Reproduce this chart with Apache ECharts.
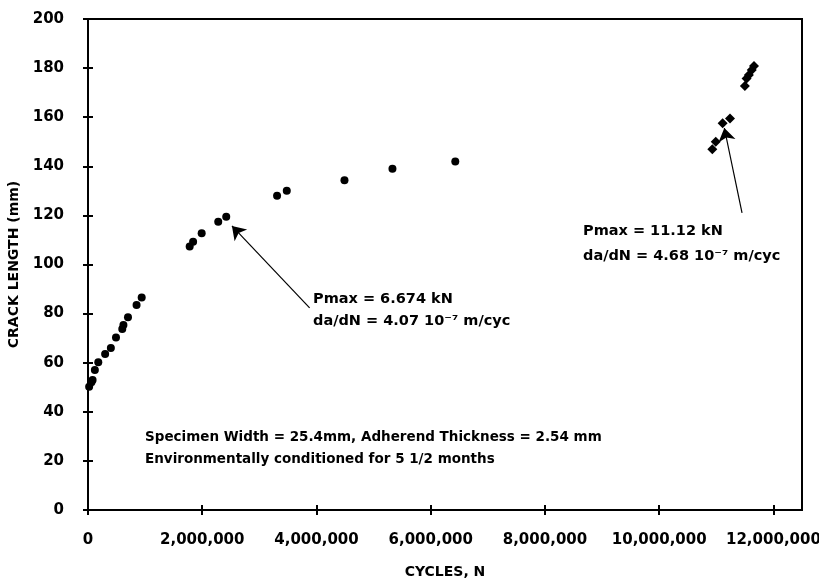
<!DOCTYPE html>
<html>
<head>
<meta charset="utf-8">
<script src="https://cdn.jsdelivr.net/npm/echarts@6/dist/echarts.min.js"></script>
<style>
html,body{margin:0;padding:0;background:#fff;}
#chart{width:819px;height:581px;}
</style>
</head>
<body>
<div id="chart"></div>
<script>
// ---- data ----
var cyclesEarly = [20000, 60000, 80000, 120000, 180000, 300000, 400000, 490000, 600000, 620000, 700000, 850000, 940000];
var lengthEarly = [50.2, 52, 53, 57, 60.2, 63.5, 66, 70.3, 73.7, 75.4, 78.5, 83.5, 86.6];
var cyclesMid = [1780000, 1840000, 1990000, 2280000, 2420000, 3310000, 3480000, 4490000, 5330000, 6430000];
var lengthMid = [107.3, 109.3, 112.7, 117.4, 119.5, 128, 130, 134.3, 139, 142];
var cyclesLate = [10930000, 10990000, 11110000, 11240000, 11500000, 11530000, 11570000, 11620000, 11660000];
var lengthLate = [146.9, 150, 157.5, 159.5, 172.7, 175.8, 177.2, 179.2, 180.9];
var xTicks = [0, 2000000, 4000000, 6000000, 8000000, 10000000, 12000000];
var yTicks = [0, 20, 40, 60, 80, 100, 120, 140, 160, 180, 200];

function pairs(xs, ys) { return xs.map(function (x, i) { return [x, ys[i]]; }); }
function fmt(v) { return String(v).replace(/\B(?=(\d{3})+(?!\d))/g, ','); }

var FONT = 'DejaVu Sans';
var labelStyle = { color: '#000', fontFamily: FONT, fontWeight: 'bold', fontSize: 14 };
var gridBox = { left: 88, top: 19, right: 17, bottom: 71, containLabel: false, outerBoundsMode: 'none' };
var dotStyle = { color: '#000', opacity: 1 };

var chart = echarts.init(document.getElementById('chart'), null, { renderer: 'canvas' });

var xMain = {
  type: 'value', min: 0, max: 12500000, position: 'bottom',
  name: 'CYCLES, N', nameLocation: 'middle', nameGap: 55, nameTextStyle: labelStyle,
  axisLine: { show: true, onZero: false, lineStyle: { color: '#000', width: 2 } },
  axisTick: { show: true, length: 5, customValues: xTicks, lineStyle: { color: '#000', width: 2 } },
  axisLabel: { customValues: xTicks, margin: 23, formatter: fmt, color: '#000', fontFamily: FONT, fontWeight: 'bold', fontSize: 15 },
  splitLine: { show: false }
};
var yMain = {
  type: 'value', min: 0, max: 200, interval: 20, position: 'left',
  name: 'CRACK LENGTH (mm)', nameLocation: 'middle', nameGap: 62, nameTextStyle: labelStyle,
  axisLine: { show: true, onZero: false, lineStyle: { color: '#000', width: 2 } },
  axisTick: { show: true, length: 5, lineStyle: { color: '#000', width: 2 } },
  axisLabel: { margin: 24, color: '#000', fontFamily: FONT, fontWeight: 'bold', fontSize: 15 },
  splitLine: { show: false }
};
// twin axes on the same lines: they draw the inner halves of the crossing ticks
var xInner = {
  type: 'value', min: 0, max: 12500000, position: 'bottom',
  axisLine: { show: true, onZero: false, lineStyle: { color: '#000', width: 2 } },
  axisTick: { show: true, inside: true, length: 5, customValues: xTicks, lineStyle: { color: '#000', width: 2 } },
  axisLabel: { show: false }, splitLine: { show: false }
};
var yInner = {
  type: 'value', min: 0, max: 200, interval: 20, position: 'left',
  axisLine: { show: true, onZero: false, lineStyle: { color: '#000', width: 2 } },
  axisTick: { show: true, inside: true, length: 5, lineStyle: { color: '#000', width: 2 } },
  axisLabel: { show: false }, splitLine: { show: false }
};

function ann(text, left, top, size) {
  return { type: 'text', left: left, top: top, z: 100, style: { text: text, fill: '#000', font: 'bold ' + size + 'px "DejaVu Sans"' } };
}

chart.setOption({
  animation: false,
  backgroundColor: '#fff',
  grid: Object.assign({ show: true, borderColor: '#000', borderWidth: 2, backgroundColor: 'transparent' }, gridBox),
  xAxis: [xMain, xInner],
  yAxis: [yMain, yInner],
  series: [
    { type: 'scatter', symbol: 'circle', symbolSize: 8, itemStyle: dotStyle, data: pairs(cyclesEarly, lengthEarly) },
    {
      type: 'scatter', symbol: 'circle', symbolSize: 8, itemStyle: dotStyle, data: pairs(cyclesMid, lengthMid),
      markLine: {
        silent: true, symbol: ['none', 'arrow'], symbolSize: 13,
        lineStyle: { color: '#000', width: 1.2, type: 'solid', opacity: 1 }, label: { show: false },
        emphasis: { disabled: true },
        data: [
          [{ coord: [3880000, 82.3] }, { coord: [2520000, 115.7] }],
          [{ coord: [11450000, 121] }, { coord: [11140000, 155.6] }]
        ]
      }
    },
    { type: 'scatter', symbol: 'diamond', symbolSize: 10, itemStyle: dotStyle, data: pairs(cyclesLate, lengthLate) },
    { type: 'scatter', xAxisIndex: 1, yAxisIndex: 1, data: [[0, 0]], symbolSize: 0, silent: true }
  ],
  graphic: [
    ann('Pmax = 6.674 kN', 313, 292, 14.5),
    ann('da/dN = 4.07 10\u207B\u2077 m/cyc', 313, 314, 14.5),
    ann('Pmax = 11.12 kN', 583, 224, 14.5),
    ann('da/dN = 4.68 10\u207B\u2077 m/cyc', 583, 249, 14.5),
    ann('Specimen Width = 25.4mm, Adherend Thickness = 2.54 mm', 145, 430, 13.5),
    ann('Environmentally conditioned for 5 1/2 months', 145, 452, 13.5)
  ]
});
</script>
</body>
</html>
